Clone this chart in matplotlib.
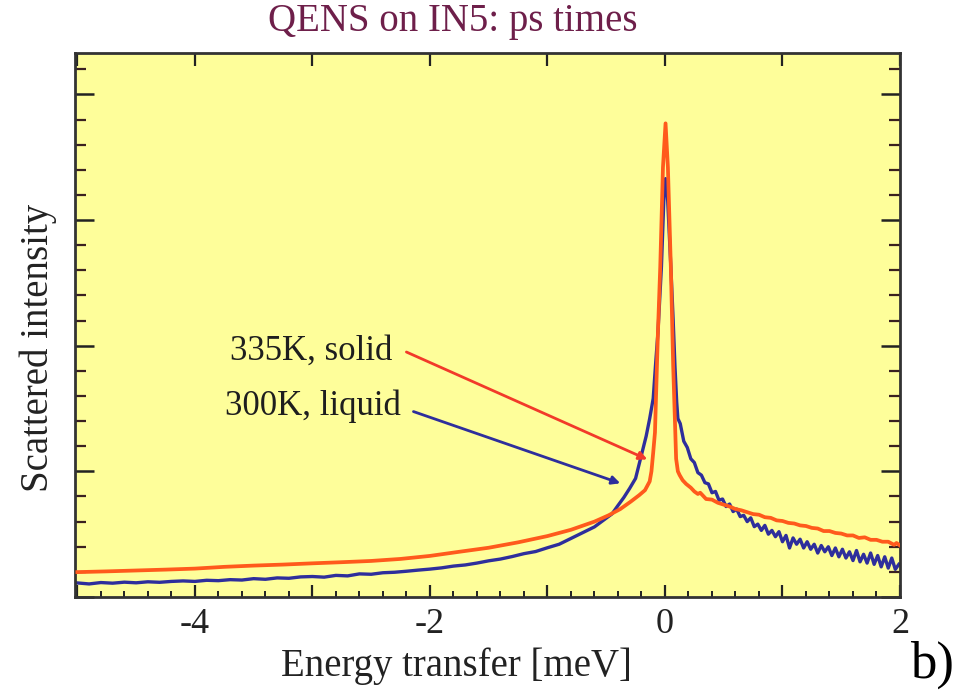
import matplotlib
matplotlib.use("Agg")
import matplotlib.pyplot as plt
from matplotlib.ticker import MultipleLocator, FixedLocator, FuncFormatter

plt.rcParams['font.family'] = ['Liberation Serif', 'DejaVu Serif']

# ---- data (energy in meV, intensity in arbitrary units) ----
x_solid = [-5.0, -4.75, -4.5, -4.25, -4.0, -3.75, -3.5, -3.25, -3.0, -2.75, -2.5, -2.25,
           -2.0, -1.75, -1.5, -1.25, -1.0, -0.8, -0.6, -0.48, -0.38, -0.29, -0.22, -0.17,
           -0.13, -0.115, -0.10, -0.085, -0.06, -0.04, -0.017, 0.005, 0.025, 0.05, 0.07,
           0.085, 0.095, 0.11, 0.125, 0.15, 0.18, 0.22, 0.25, 0.28, 0.30, 0.35, 0.40,
           0.45, 0.50, 0.55, 0.60, 0.65, 0.70, 0.75, 0.80, 0.85, 0.90, 0.95, 1.00, 1.05,
           1.10, 1.15, 1.20, 1.25, 1.30, 1.35, 1.40, 1.45, 1.50, 1.55, 1.60, 1.65, 1.70,
           1.75, 1.80, 1.85, 1.90, 1.95, 1.97, 2.0]
y_solid = [0.198, 0.204, 0.211, 0.218, 0.226, 0.240, 0.250, 0.258, 0.268, 0.277, 0.287, 0.303,
           0.327, 0.360, 0.392, 0.435, 0.485, 0.535, 0.600, 0.650, 0.700, 0.760, 0.810, 0.850,
           0.920, 1.00, 1.15, 1.31, 2.10, 2.63, 3.42, 3.77, 3.42, 2.63, 1.84,
           1.40, 1.10, 1.00, 0.97, 0.93, 0.90, 0.87, 0.84, 0.82, 0.83, 0.78, 0.775,
           0.75, 0.735, 0.72, 0.70, 0.69, 0.675, 0.66, 0.655, 0.635, 0.63, 0.61, 0.605, 0.59,
           0.585, 0.57, 0.565, 0.55, 0.545, 0.525, 0.525, 0.51, 0.505, 0.49, 0.49, 0.47, 0.475,
           0.455, 0.455, 0.44, 0.44, 0.415, 0.43, 0.41]

x_liquid = [-5.0, -4.9, -4.8, -4.7, -4.6, -4.5, -4.4, -4.3, -4.2, -4.1, -4.0, -3.9, -3.8,
            -3.7, -3.6, -3.5, -3.4, -3.3, -3.2, -3.1, -3.0, -2.9, -2.8, -2.7, -2.6, -2.5,
            -2.4, -2.3, -2.2, -2.1, -2.0, -1.9, -1.8, -1.7, -1.6, -1.5, -1.4, -1.3, -1.2,
            -1.1, -1.0, -0.9, -0.8, -0.7, -0.6, -0.5, -0.45, -0.4, -0.35, -0.3, -0.25,
            -0.2, -0.16, -0.13, -0.10, -0.08, -0.06, -0.03, -0.01, 0.005, 0.02, 0.05, 0.07,
            0.085, 0.10, 0.11, 0.13, 0.16, 0.19, 0.22, 0.25, 0.28, 0.31, 0.34, 0.37, 0.40,
            0.43, 0.46, 0.49, 0.52, 0.55, 0.58, 0.61, 0.64, 0.67, 0.70, 0.73, 0.76, 0.79,
            0.82, 0.85, 0.88, 0.91, 0.94, 0.97, 1.00, 1.03, 1.06, 1.09, 1.12, 1.15, 1.18,
            1.21, 1.24, 1.27, 1.30, 1.33, 1.36, 1.39, 1.42, 1.45, 1.48, 1.51, 1.54, 1.57,
            1.60, 1.63, 1.66, 1.69, 1.72, 1.75, 1.78, 1.81, 1.84, 1.87, 1.90, 1.93, 1.96, 1.99]
y_liquid = [0.112, 0.104, 0.115, 0.110, 0.118, 0.113, 0.121, 0.117, 0.124, 0.128, 0.124, 0.133, 0.130,
            0.138, 0.135, 0.146, 0.141, 0.152, 0.149, 0.160, 0.163, 0.158, 0.172, 0.168, 0.184, 0.181,
            0.193, 0.197, 0.205, 0.214, 0.222, 0.232, 0.246, 0.255, 0.270, 0.288, 0.302, 0.322, 0.345,
            0.362, 0.392, 0.420, 0.466, 0.512, 0.558, 0.628, 0.662, 0.728, 0.792, 0.865, 0.944,
            1.13, 1.28, 1.42, 1.58, 1.85, 2.10, 2.63, 3.15, 3.33, 3.22, 2.63, 2.20,
            1.84, 1.55, 1.42, 1.38, 1.24, 1.19, 1.10, 1.07, 0.99, 0.97, 0.91, 0.90, 0.83,
            0.84, 0.77, 0.78, 0.72, 0.74, 0.68, 0.70, 0.64, 0.65, 0.60, 0.63, 0.56, 0.58,
            0.53, 0.57, 0.50, 0.53, 0.48, 0.52, 0.44, 0.49, 0.39, 0.47, 0.42, 0.46, 0.39,
            0.44, 0.38, 0.42, 0.35, 0.41, 0.36, 0.40, 0.33, 0.39, 0.32, 0.38, 0.31, 0.36,
            0.29, 0.37, 0.28, 0.34, 0.27, 0.35, 0.26, 0.33, 0.24, 0.32, 0.23, 0.31, 0.22, 0.26]

x_tick_values = [-5, -4, -3, -2, -1, 0, 1, 2]
x_tick_labels = {-4: "-4", -2: "-2", 0: "0", 2: "2"}

# ---- figure ----
fig = plt.figure(figsize=(9.69, 6.94), dpi=100)
fig.patch.set_facecolor("white")
ax = fig.add_axes([75/969, 1-597/694, (900-75)/969, (597-53)/694])
ax.set_facecolor("#fefe9a")

ax.plot(x_solid, y_solid, color="#ff5a1c", lw=2.7, zorder=3)
ax.plot(x_liquid, y_liquid, color="#2e2e9c", lw=2.4, zorder=2)

ax.set_xlim(-5.02, 2.0)
ax.set_ylim(0.0, 4.33)

ax.xaxis.set_major_locator(FixedLocator(x_tick_values))
ax.xaxis.set_major_formatter(FuncFormatter(lambda v, p: x_tick_labels.get(int(round(v)), "")))
ax.xaxis.set_minor_locator(MultipleLocator(0.2))
ax.yaxis.set_major_locator(MultipleLocator(1.0))
ax.yaxis.set_minor_locator(MultipleLocator(0.2))
ax.set_yticklabels([])

ax.tick_params(axis="x", which="major", direction="in", top=True, bottom=True,
               length=9, width=1.6, color="#222222", labelsize=26, pad=8,
               labelcolor="#222222")
ax.tick_params(axis="x", which="minor", direction="in", top=False, bottom=True,
               length=4, width=1.4, color="#222222")
ax.tick_params(axis="y", which="major", direction="in", left=True, right=True,
               length=14, width=1.8, color="#222222")
ax.tick_params(axis="y", which="minor", direction="in", left=True, right=True,
               length=8, width=1.6, color="#3a2020")
for s in ax.spines.values():
    s.set_linewidth(2.0)
    s.set_color("#333333")

ax.set_xlabel("Energy transfer [meV]", fontsize=28, va="center", color="#222222")
ax.xaxis.set_label_coords((456-75)/825, (597-666)/544)
ax.set_ylabel("Scattered intensity", fontsize=28, va="center", color="#222222")
ax.yaxis.set_label_coords((38-75)/825, (597-348)/544)

# annotations
ax.text(-2.32, 1.96, "335K, solid", fontsize=25, ha="right", va="center", color="#1e1e1e")
ax.text(-2.25, 1.52, "300K, liquid", fontsize=25, ha="right", va="center", color="#1e1e1e")
ax.annotate("", xy=(-0.15, 1.095), xytext=(-2.20, 1.95),
            arrowprops=dict(arrowstyle="-|>", color="#f23a2a", lw=2.0,
                            mutation_scale=12, shrinkA=0, shrinkB=0), zorder=4)
ax.annotate("", xy=(-0.38, 0.905), xytext=(-2.14, 1.476),
            arrowprops=dict(arrowstyle="-|>", color="#2e2e9c", lw=2.0,
                            mutation_scale=12, shrinkA=0, shrinkB=0), zorder=4)

fig.text(453/969, 1-22/694, "QENS on IN5: ps times", fontsize=28, color="#6e1f4a",
         ha="center", va="center")
fig.text(932/969, 1-665/694, "b)", fontsize=38, color="black", ha="center", va="center")

fig.savefig("out.png", dpi=100)
